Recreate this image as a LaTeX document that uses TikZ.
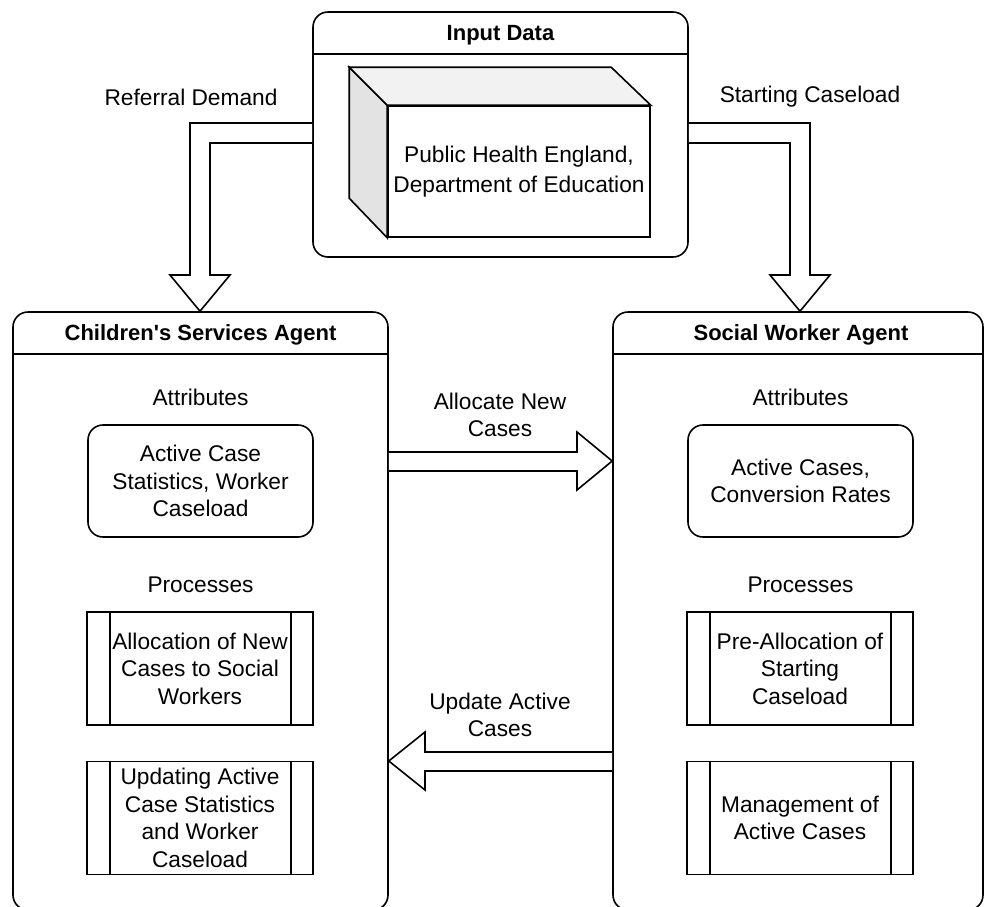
\documentclass[tikz,border=0pt]{standalone}
\usepackage{fontspec}
\setmainfont{Liberation Sans}[Ligatures=TeXOff]
\usetikzlibrary{calc}
\begin{document}
\begin{tikzpicture}[x=1pt,y=-1pt,
  every node/.style={font=\fontsize{22.7}{27.5}\selectfont, inner sep=0pt},
  ln/.style={line width=1.6pt, draw=black},
  container/.style={ln, rectangle, rounded corners=15pt},
  attrbox/.style={ln, rectangle, rounded corners=15pt, minimum width=225pt, minimum height=112pt, align=center},
  procbox/.style={ln, rectangle, minimum width=226pt, minimum height=113pt, align=center},
  titletext/.style={font=\fontsize{22}{27}\selectfont\bfseries},
  plain/.style={align=center},
  blockarrow/.style={ln, fill=white, line join=miter}
]
\useasboundingbox (0,0) rectangle (985,906);
\clip (0,0) rectangle (985,906);

% Input data container
\node[container, minimum width=375pt, minimum height=245pt] (input) at (500.5,134.5) {};
\draw[ln] ($(input.north west)+(0,43)$) -- ($(input.north east)+(0,43)$);
\node[titletext] (inputtitle) at (500.5,35) {Input Data};

% Cube
\node[ln, rectangle, fill=white, minimum width=262pt, minimum height=131pt, align=center,
  font=\fontsize{22.7}{30}\selectfont] (pheface) at (519,171.5)
  {Public Health England,\\Department of Education};
\draw[ln, fill=gray!22, line join=miter] (pheface.north west) -- ++(-38,-38) -- ++(0,131) -- (pheface.south west) -- cycle;
\draw[ln, fill=gray!10, line join=miter] (pheface.north west) -- ++(-38,-38) -- ++(262,0) -- (pheface.north east) -- cycle;

% Agents
\node[container, minimum width=375pt, minimum height=598pt] (csa) at (200.5,611) {};
\draw[ln] ($(csa.north west)+(0,43)$) -- ($(csa.north east)+(0,43)$);
\node[titletext] (csatitle) at (200.5,335) {Children's Services Agent};

\node[container, minimum width=370pt, minimum height=598pt] (swa) at (798,611) {};
\draw[ln] ($(swa.north west)+(0,43)$) -- ($(swa.north east)+(0,43)$);
\node[titletext] (swatitle) at (801,335) {Social Worker Agent};

% Left contents
\node (attrL) at (200.5,397) {Attributes};
\node[attrbox] (attrboxL) at (200.5,481) {Active Case\\Statistics, Worker\\Caseload};
\node (procL) at (200.5,585) {Processes};
\node[procbox] (p1) at (200,668.5) {Allocation of New\\Cases to Social\\Workers};
\node[procbox] (p2) at (200,818) {Updating Active\\Case Statistics\\and Worker\\Caseload};

% Right contents
\node (attrR) at (800.5,397) {Attributes};
\node[attrbox] (attrboxR) at (800.5,481) {Active Cases,\\Conversion Rates};
\node (procR) at (800.5,585) {Processes};
\node[procbox] (p3) at (800,668.5) {Pre-Allocation of\\Starting\\Caseload};
\node[procbox] (p4) at (800,818) {Management of\\Active Cases};

\foreach \p in {p1,p2,p3,p4}{
  \draw[ln] ([xshift=24pt]\p.north west) -- ([xshift=24pt]\p.south west);
  \draw[ln] ([xshift=-23pt]\p.north east) -- ([xshift=-23pt]\p.south east);
}

% Block arrows
\coordinate (rdtip) at (csa.north -| 200,0);
\draw[blockarrow] (input.west |- 0,123) -- (190,123) -- (190,275) -- (170,275) -- (rdtip)
  -- (230,275) -- (210,275) -- (210,143) -- (input.west |- 0,143);
\coordinate (sctip) at (swa.north -| 800,0);
\draw[blockarrow] (input.east |- 0,123) -- (810,123) -- (810,275) -- (830,275) -- (sctip)
  -- (770,275) -- (790,275) -- (790,143) -- (input.east |- 0,143);

\coordinate (antip) at (swa.west |- 0,461);
\draw[blockarrow] (csa.east |- 0,452) -- (577,452) -- (577,432) -- (antip) -- (577,490)
  -- (577,471) -- (csa.east |- 0,471);
\coordinate (uatip) at (csa.east |- 0,761);
\draw[blockarrow] (swa.west |- 0,752) -- (425,752) -- (425,732) -- (uatip) -- (425,790)
  -- (425,771) -- (swa.west |- 0,771);

% Arrow labels
\node (lblrd) at (191,97) {Referral Demand};
\node (lblsc) at (810,97) {Starting Caseload};
\node[plain] (lblan) at (500,415) {Allocate New\\Cases};
\node[plain] (lblua) at (500,715) {Update Active\\Cases};
\end{tikzpicture}
\end{document}
